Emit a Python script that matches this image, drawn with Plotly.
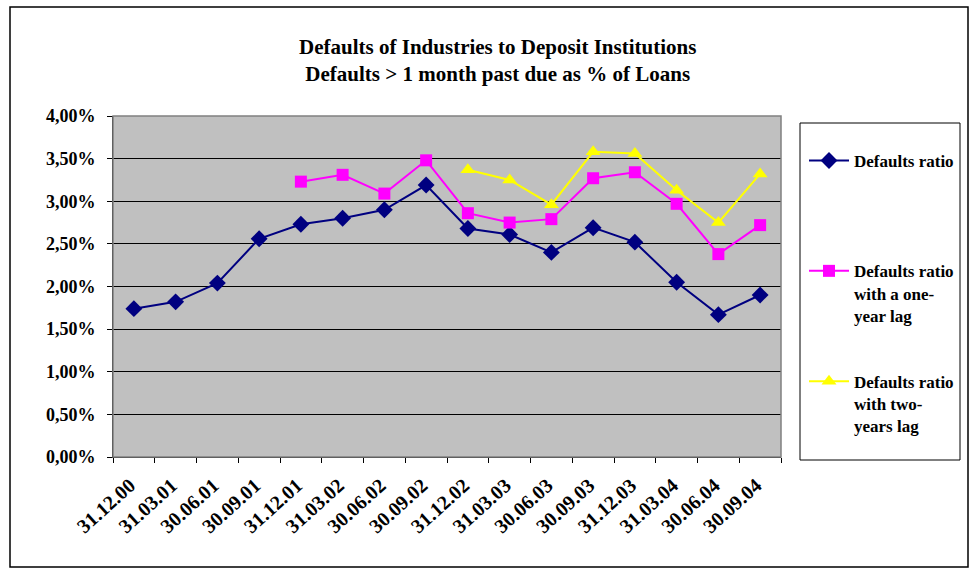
import plotly.graph_objects as go

categories = ["31.12.00", "31.03.01", "30.06.01", "30.09.01", "31.12.01", "31.03.02",
              "30.06.02", "30.09.02", "31.12.02", "31.03.03", "30.06.03", "30.09.03",
              "31.12.03", "31.03.04", "30.06.04", "30.09.04"]
defaults_ratio = [0.0174, 0.0182, 0.0204, 0.0256, 0.0273, 0.0280, 0.0290, 0.0319,
                  0.0268, 0.0261, 0.0240, 0.0269, 0.0252, 0.0205, 0.0167, 0.0190]
one_year_lag = [None, None, None, None, 0.0323, 0.0331, 0.0309, 0.0348,
                0.0286, 0.0275, 0.0279, 0.0327, 0.0334, 0.0297, 0.0238, 0.0272]
two_years_lag = [None, None, None, None, None, None, None, None,
                 0.0337, 0.0325, 0.0296, 0.0358, 0.0356, 0.0313, 0.0275, 0.0332]

FONT = "'Liberation Serif', 'Times New Roman', Times, serif"
fig = go.Figure()
fig.add_trace(go.Scatter(x=categories, y=defaults_ratio, name="<b>Defaults ratio</b><br> <br> ",
                         mode="lines+markers", line=dict(color="#000080", width=2),
                         marker=dict(symbol="diamond", size=13, color="#000080"),
                         legendgroup="a"))
fig.add_trace(go.Scatter(x=categories, y=one_year_lag,
                         name="<b>Defaults ratio<br>with a one-<br>year lag</b>",
                         mode="lines+markers", line=dict(color="#FF00FF", width=2),
                         marker=dict(symbol="square", size=12, color="#FF00FF"),
                         legendgroup="b"))
fig.add_trace(go.Scatter(x=categories, y=two_years_lag,
                         name="<b>Defaults ratio<br>with two-<br>years lag</b>",
                         mode="lines+markers", line=dict(color="#FFFF00", width=2),
                         marker=dict(symbol="triangle-up", size=13, color="#FFFF00"),
                         legendgroup="c"))

W, H = 976, 569
L, R, T, B = 113, 781, 116, 457
def px(x):
    return (x - L) / (R - L)
def py(y):
    return (B - y) / (B - T)

shapes = [
    dict(type="rect", xref="paper", yref="paper", x0=px(10), x1=px(968), y0=py(567), y1=py(7),
         line=dict(color="black", width=1.5), layer="below"),
    dict(type="rect", xref="paper", yref="paper", x0=px(800), x1=px(960), y0=py(460), y1=py(123),
         line=dict(color="black", width=1), layer="below"),
    dict(type="rect", xref="paper", yref="paper", x0=0, x1=1, y0=0, y1=1,
         line=dict(color="#808080", width=1.5)),
]

fig.update_layout(
    width=W, height=H,
    margin=dict(l=L, r=W - R, t=T, b=H - B),
    paper_bgcolor="white", plot_bgcolor="#C0C0C0",
    separators=",.",
    font=dict(family=FONT, color="black", size=14),
    title=dict(text="<b>Defaults of Industries to Deposit Institutions<br>Defaults > 1 month past due as % of Loans</b>",
               x=0.510, xanchor="center", y=1 - 54 / H, yanchor="middle",
               font=dict(family=FONT, size=21, color="black")),
    showlegend=True,
    legend=dict(x=px(804), y=py(143), xanchor="left", yanchor="top",
                bgcolor="rgba(0,0,0,0)", borderwidth=0,
                font=dict(family=FONT, size=17, color="black"),
                tracegroupgap=41, traceorder="grouped", valign="top", itemwidth=40),
    shapes=shapes,
    xaxis=dict(type="category", tickson="boundaries", ticks="outside", ticklen=5,
               range=[-0.5, len(categories) - 0.5], autorange=False,
               tickcolor="black", showline=True, linecolor="black", linewidth=1,
               showgrid=False, tickangle=-42, ticklabelstandoff=8, ticklabelshift=-4,
               tickfont=dict(family=FONT, size=20, color="black"), tickprefix="<b>", ticksuffix="</b>"),
    yaxis=dict(range=[0, 0.04], dtick=0.005, tickformat=".2%", ticks="outside", ticklen=5,
               tickcolor="black", showline=True, linecolor="black", linewidth=1,
               showgrid=True, gridcolor="black", gridwidth=1, zeroline=False,
               ticklabelstandoff=8,
               tickfont=dict(family=FONT, size=18, color="black"), tickprefix="<b>", ticksuffix="</b>"),
)

fig.write_html("out.html", config={"displayModeBar": False},
               post_script="document.body.style.margin='0';")
